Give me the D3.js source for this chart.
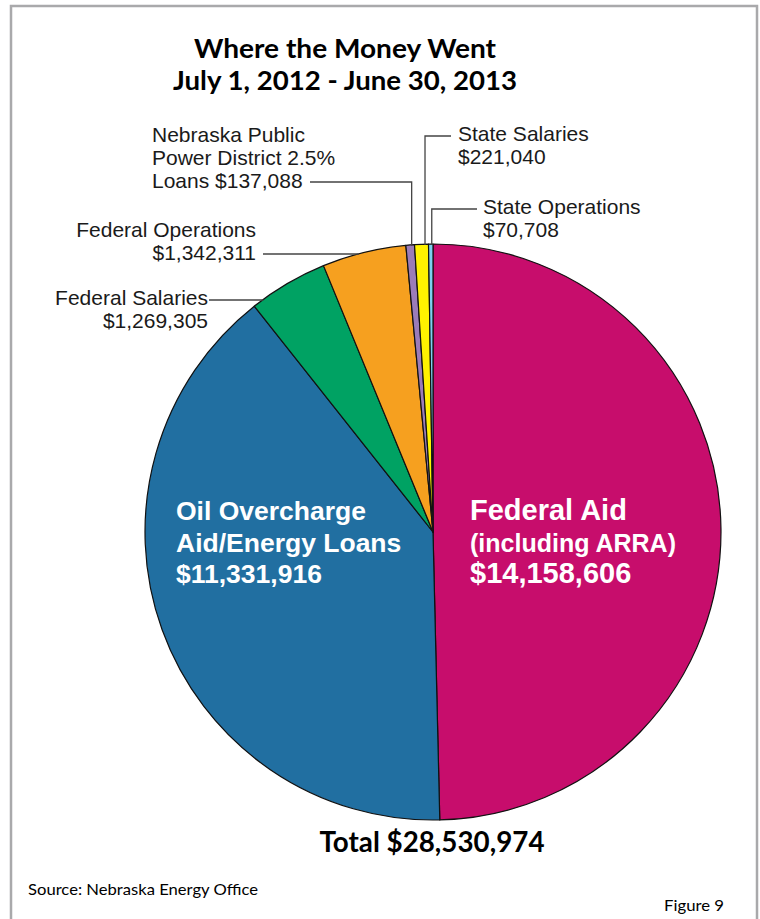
<!DOCTYPE html>
<html><head><meta charset="utf-8">
<script src="https://cdn.jsdelivr.net/npm/d3@7"></script>
<style>html,body{margin:0;padding:0;background:#fff;}</style>
</head><body>
<svg id="chart" width="760" height="919"></svg>
<script>
// ---- data ----
const categories = ["Federal Aid (including ARRA)", "Oil Overcharge Aid/Energy Loans", "Federal Salaries", "Federal Operations", "Nebraska Public Power District 2.5% Loans", "State Salaries", "State Operations"];
const values = [14158606, 11331916, 1269305, 1342311, 137088, 221040, 70708];
const labelLines = [
  ["Federal Aid", "(including ARRA)", "$14,158,606"],
  ["Oil Overcharge", "Aid/Energy Loans", "$11,331,916"],
  ["Federal Salaries", "$1,269,305"],
  ["Federal Operations", "$1,342,311"],
  ["Nebraska Public", "Power District 2.5%", "Loans $137,088"],
  ["State Salaries", "$221,040"],
  ["State Operations", "$70,708"]
];
const colors = ["#C70D6C", "#216FA1", "#00A263", "#F6A01F", "#9B7CB8", "#FFF200", "#7DCFF0"];
const titleLines = ["Where the Money Went", "July 1, 2012 - June 30, 2013"];
const totalLabel = "Total $28,530,974";
const sourceLabel = "Source: Nebraska Energy Office";
const figureLabel = "Figure 9";

// ---- layout ----
const W = 760, H = 919;
const cx = 433, cy = 532, R = 288;
const svg = d3.select("#chart");

svg.append("rect").attr("x", 11).attr("y", 6).attr("width", 746).attr("height", 960)
  .attr("fill", "none").attr("stroke", "#a9a9ab").attr("stroke-width", 2.5);

const titleFont = "Lato, 'Open Sans', sans-serif";
svg.append("text").attr("x", 345).attr("y", 58).attr("text-anchor", "middle")
  .attr("font-family", titleFont).attr("font-weight", 700).attr("font-size", 27)
  .attr("textLength", 302).attr("lengthAdjust", "spacingAndGlyphs").text(titleLines[0]);
svg.append("text").attr("x", 345).attr("y", 90).attr("text-anchor", "middle")
  .attr("font-family", titleFont).attr("font-weight", 700).attr("font-size", 27)
  .attr("textLength", 344).attr("lengthAdjust", "spacingAndGlyphs").text(titleLines[1]);

const pie = d3.pie().sort(null).value(d => d);
const arcs = pie(values);
const arc = d3.arc().innerRadius(0).outerRadius(R);

const g = svg.append("g").attr("transform", `translate(${cx},${cy})`);
g.selectAll("path").data(arcs).enter().append("path")
  .attr("d", arc).attr("fill", (d, i) => colors[i])
  .attr("stroke", "#111").attr("stroke-width", 1.2).attr("stroke-linejoin", "round");

// inner labels
const inner = [
  {i: 0, x: 470, y: 520, sizes: [29, 25, 29]},
  {i: 1, x: 176, y: 520, sizes: [26.5, 26.5, 26.5]}
];
inner.forEach(o => {
  labelLines[o.i].forEach((t, k) => {
    svg.append("text").attr("x", o.x).attr("y", o.y + k * 31.7)
      .attr("font-family", "'Liberation Sans', Arial, sans-serif").attr("font-weight", 700)
      .attr("font-size", o.sizes[k]).attr("fill", "#fff").text(t);
  });
});

// outer labels with leader lines
const lf = "'Liberation Sans', Arial, sans-serif";
const lineH = 23;
function midAngle(d) { return (d.startAngle + d.endAngle) / 2; }
function addLines(lines, x, y0, anchor) {
  lines.forEach((t, k) => {
    svg.append("text").attr("x", x).attr("y", y0 + k * lineH).attr("text-anchor", anchor)
      .attr("font-family", lf).attr("font-size", 21).attr("fill", "#1a1a1a").text(t);
  });
}
const lead = svg.append("g").attr("fill", "none").attr("stroke", "#444").attr("stroke-width", 1.3);

// vertical leaders (small top slices)
const vert = [
  {i: 4, elbowY: 182, endX: 310, textX: 152, textY: 142, anchor: "start", dx: 1.5},
  {i: 5, elbowY: 136, endX: 451, textX: 458, textY: 141, anchor: "start", dx: 3.5},
  {i: 6, elbowY: 209, endX: 477, textX: 483, textY: 214, anchor: "start", dx: 1.0}
];
vert.forEach(o => {
  const a = midAngle(arcs[o.i]);
  const x = cx + R * Math.sin(a) + o.dx;
  const yEdge = cy - Math.sqrt(R * R - (x - cx) * (x - cx));
  lead.append("path").attr("d", `M${x},${yEdge + 1}V${o.elbowY}H${o.endX}`);
  addLines(labelLines[o.i], o.textX, o.textY, o.anchor);
});

// horizontal leaders (left slices)
const horiz = [
  {i: 2, lineY: 300, textX: 208, textY: 305},
  {i: 3, lineY: 254, textX: 256, textY: 237}
];
horiz.forEach(o => {
  const xEdge = cx - Math.sqrt(R * R - (o.lineY - cy) * (o.lineY - cy));
  lead.append("path").attr("d", `M${o.textX + (o.i === 3 ? 7 : 1)},${o.lineY}H${xEdge + 1}`);
  addLines(labelLines[o.i], o.textX, o.textY, "end");
});

svg.append("text").attr("x", 432).attr("y", 852).attr("text-anchor", "middle")
  .attr("font-family", titleFont).attr("font-weight", 700).attr("font-size", 28)
  .attr("textLength", 225).attr("lengthAdjust", "spacingAndGlyphs").text(totalLabel);

svg.append("text").attr("x", 28).attr("y", 895)
  .attr("font-family", titleFont).attr("font-size", 16)
  .attr("textLength", 230).attr("lengthAdjust", "spacingAndGlyphs").text(sourceLabel);
svg.append("text").attr("x", 664).attr("y", 911)
  .attr("font-family", titleFont).attr("font-size", 16)
  .attr("textLength", 60).attr("lengthAdjust", "spacingAndGlyphs").text(figureLabel);
</script>
</body></html>
